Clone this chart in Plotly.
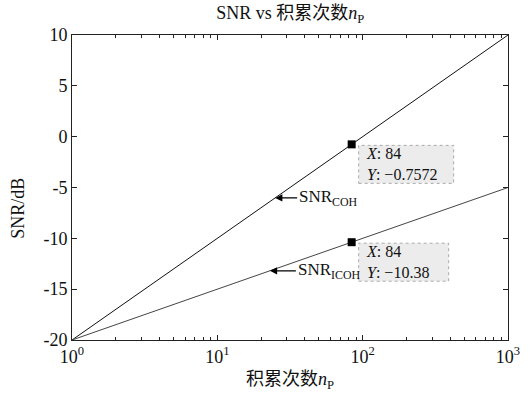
import numpy as np
import plotly.graph_objects as go

# ---- data ----
n_p = [1, 84, 1000]
snr_coh = [-20, -0.7572, 10]
snr_icoh = [-20, -10.38, -5]
tip_x = [84, 84]
tip_y = [-0.7572, -10.38]
tip_ylabels = ["−0.7572", "−10.38"]
x_tickvals = [1, 10, 100, 1000]
x_ticktext = ["10<sup>0</sup>", "10<sup>1</sup>", "10<sup>2</sup>", "10<sup>3</sup>"]
y_tickvals = [-20, -15, -10, -5, 0, 5, 10]
y_ticktext = ["-20", "-15", "-10", "-5", "0", "5", "10"]
minor_vals = [m * d for d in (1, 10, 100) for m in range(2, 10)]

FONT = "Liberation Serif, Times New Roman, Noto Sans CJK SC, serif"

fig = go.Figure()
fig.add_trace(go.Scatter(x=n_p, y=snr_coh, mode="lines",
                         line=dict(color="#111111", width=1), showlegend=False))
fig.add_trace(go.Scatter(x=n_p, y=snr_icoh, mode="lines",
                         line=dict(color="#444444", width=1), showlegend=False))

# data-tip boxes
box_right = [102, 97]
for i, (tx, ty) in enumerate(zip(tip_x, tip_y)):
    fig.add_shape(type="rect", xref="x", yref="y",
                  xsizemode="pixel", ysizemode="pixel",
                  xanchor=tx, yanchor=ty,
                  x0=7, x1=box_right[i], y0=-39, y1=-1,
                  fillcolor="#ececec", line=dict(color="#aaaaaa", width=1, dash="dot"),
                  layer="below")
    fig.add_annotation(x=np.log10(tx), y=ty, xref="x", yref="y", showarrow=False,
                       text=f"<i>X</i>: {tx}<br><i>Y</i>: {tip_ylabels[i]}",
                       align="left", xanchor="left", yanchor="top",
                       xshift=12, yshift=1,
                       font=dict(family=FONT, size=16, color="#111"))

fig.add_trace(go.Scatter(x=tip_x, y=tip_y, mode="markers",
                         marker=dict(symbol="square", size=8, color="black"),
                         showlegend=False))

# arrow labels
fig.add_annotation(x=np.log10(25), y=10 * np.log10(25) - 20, xref="x", yref="y",
                   text="SNR<sub>COH</sub>", showarrow=True, ax=22, ay=0,
                   xanchor="left", arrowhead=2, arrowsize=1.2, arrowwidth=1.2,
                   arrowcolor="black", font=dict(family=FONT, size=17, color="#111"))
fig.add_annotation(x=np.log10(23), y=5 * np.log10(23) - 20, xref="x", yref="y",
                   text="SNR<sub>ICOH</sub>", showarrow=True, ax=26, ay=0,
                   xanchor="left", arrowhead=2, arrowsize=1.2, arrowwidth=1.2,
                   arrowcolor="black", font=dict(family=FONT, size=17, color="#111"))

# axis titles
fig.add_annotation(x=0.5, y=-0.134, xref="paper", yref="paper", showarrow=False,
                   text="积累次数<i>n</i><sub>P</sub>", xanchor="center", yanchor="middle",
                   font=dict(family=FONT, size=18, color="#111"))
fig.add_annotation(x=-0.124, y=0.433, xref="paper", yref="paper", showarrow=False,
                   text="SNR/dB", textangle=-90, xanchor="center", yanchor="middle",
                   font=dict(family=FONT, size=18, color="#111"))

fig.update_layout(
    width=531, height=396,
    margin=dict(l=72, r=23, t=35, b=56),
    paper_bgcolor="white", plot_bgcolor="white",
    font=dict(family=FONT, size=18, color="#111"),
    title=dict(text="SNR vs 积累次数<i>n</i><sub>P</sub>", x=0.5465, xanchor="center",
               y=1 - 13 / 396, yanchor="middle", yref="container",
               font=dict(family=FONT, size=18, color="#111")),
)
fig.update_xaxes(type="log", range=[0, 3], tickmode="array", tickvals=x_tickvals,
                 ticktext=x_ticktext, ticks="inside", ticklen=5, tickcolor="#222",
                 showline=True, linecolor="#222", linewidth=1, mirror="allticks",
                 showgrid=False, zeroline=False,
                 minor=dict(tickmode="array", tickvals=minor_vals, ticks="inside",
                            ticklen=3, tickcolor="#222", showgrid=False),
                 tickfont=dict(family=FONT, size=18))
fig.update_yaxes(range=[-20, 10], tickmode="array", tickvals=y_tickvals,
                 ticktext=y_ticktext, ticks="inside", ticklen=5, tickcolor="#222",
                 showline=True, linecolor="#222", linewidth=1, mirror="allticks",
                 showgrid=False, zeroline=False,
                 tickfont=dict(family=FONT, size=18))

fig.write_html("out.html", config={"displayModeBar": False},
               post_script="document.body.style.margin='0';document.body.style.overflow='hidden';")
